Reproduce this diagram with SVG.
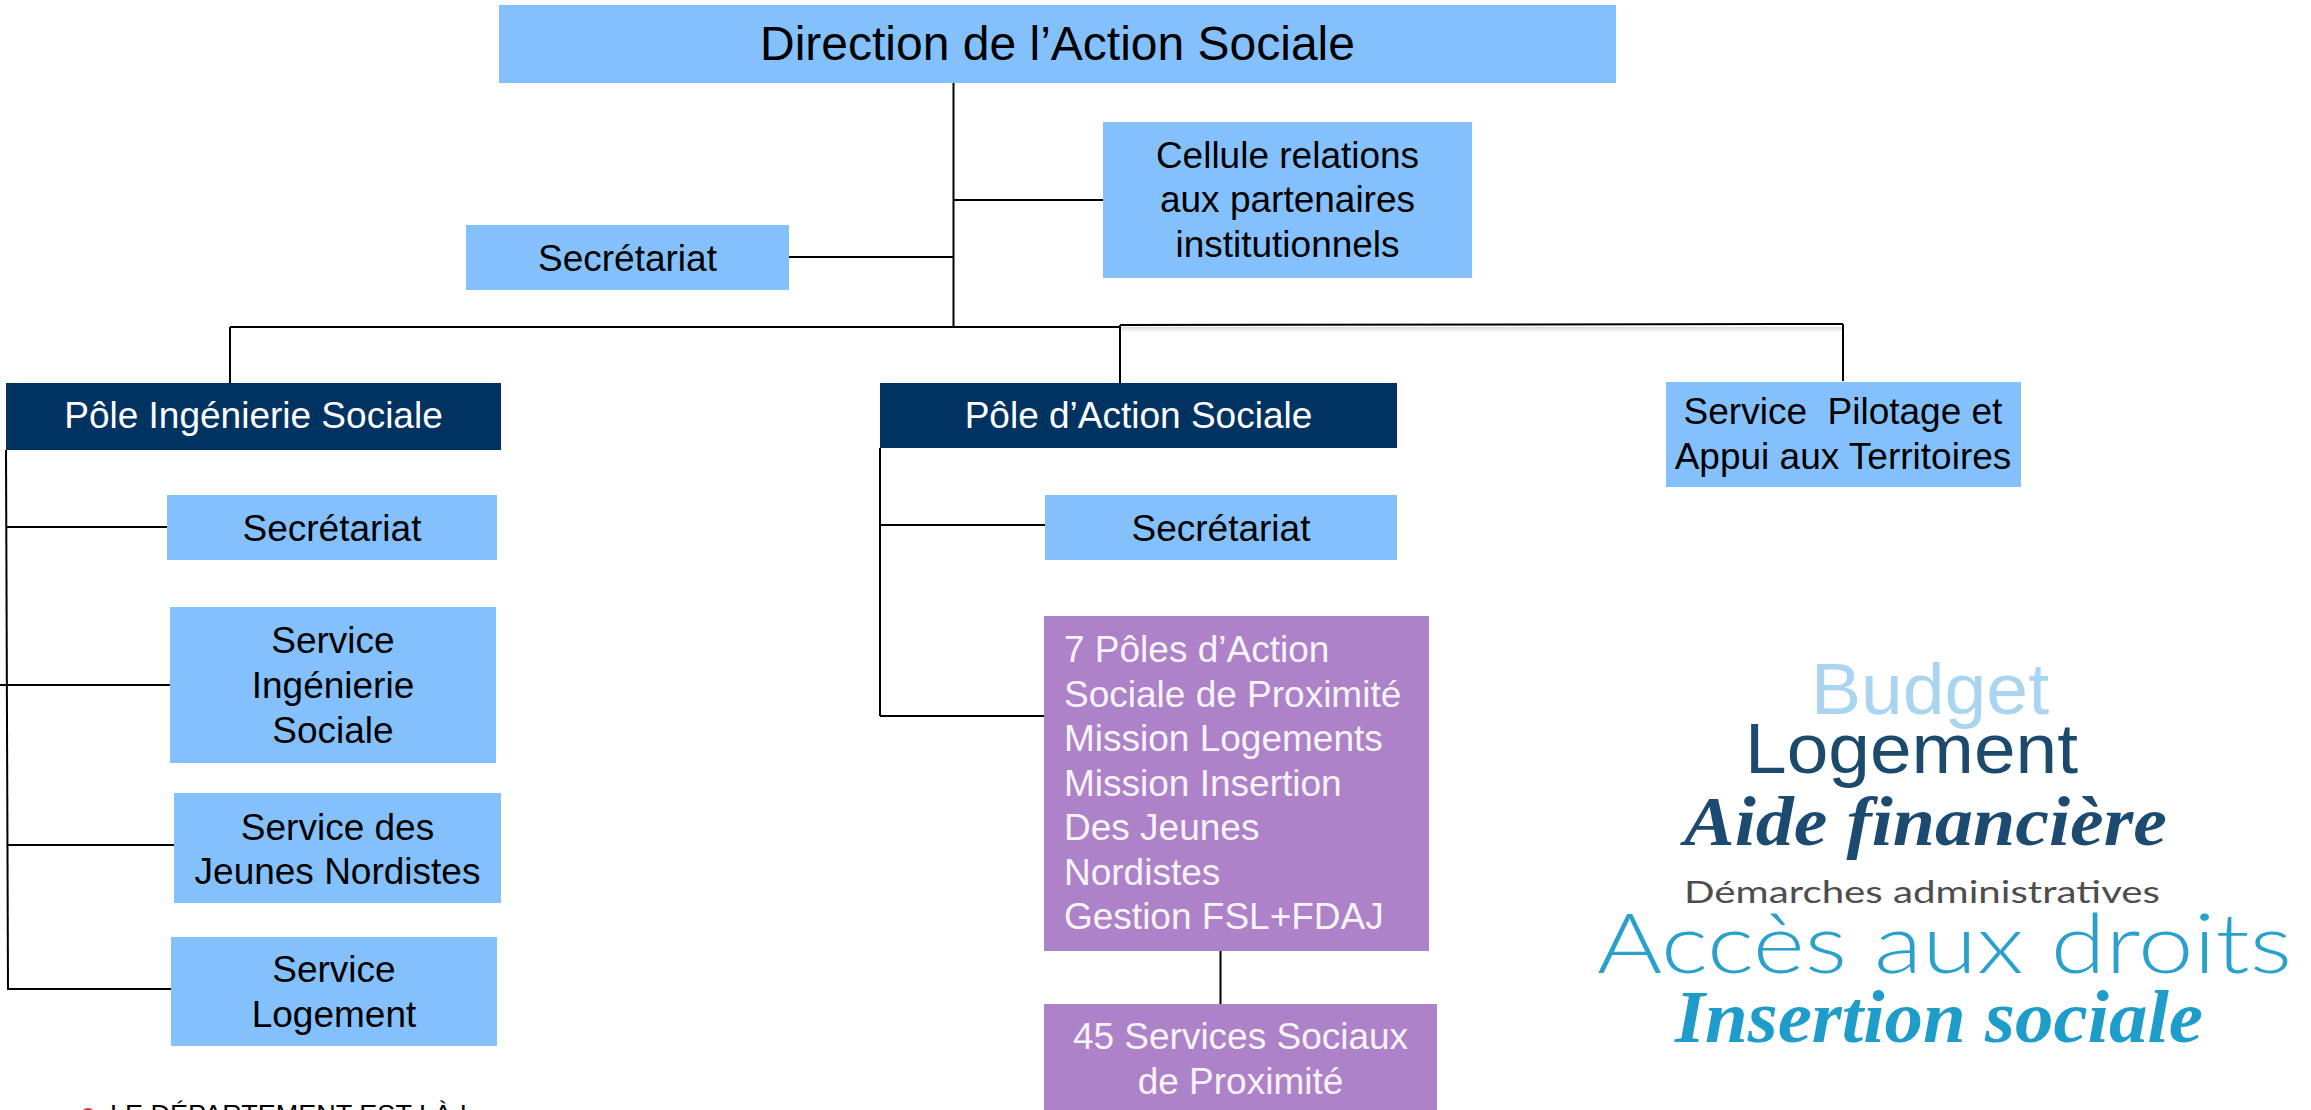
<svg xmlns="http://www.w3.org/2000/svg" width="2311" height="1110" viewBox="0 0 2311 1110">
<defs>
<style>
.lb{fill:#84C1FC}
.nv{fill:#003362}
.pu{fill:#AE82C8}
.t{font-family:"Liberation Sans",Arial,sans-serif;font-size:37px;fill:#000;text-anchor:middle}
.tw{font-family:"Liberation Sans",Arial,sans-serif;font-size:37px;fill:#fff;text-anchor:middle}
.tp{font-family:"Liberation Sans",Arial,sans-serif;font-size:37px;fill:#F7F4F9}
.c{stroke:#000;stroke-width:2;fill:none}
.cloud{font-family:"Liberation Sans",Arial,sans-serif}
.script{font-family:"Liberation Serif","DejaVu Serif",serif;font-style:italic;font-weight:bold}
</style>
<linearGradient id="shadow" x1="0" y1="0" x2="0" y2="1">
<stop offset="0" stop-color="#d8d8d8"/>
<stop offset="1" stop-color="#ffffff" stop-opacity="0"/>
</linearGradient>
</defs>
<rect width="2311" height="1110" fill="#fff"/>

<g id="connectors">
<rect x="1120" y="327" width="723" height="8" fill="url(#shadow)"/>
<line class="c" x1="953.5" y1="83" x2="953.5" y2="327"/>
<line class="c" x1="953.5" y1="200" x2="1103" y2="200"/>
<line class="c" x1="789" y1="257" x2="953.5" y2="257"/>
<line class="c" x1="230" y1="327" x2="1120" y2="327" stroke-width="2.6"/>
<line class="c" x1="1120" y1="325" x2="1843" y2="324" stroke-width="2.6"/>
<line class="c" x1="230" y1="327" x2="230" y2="383" stroke-width="1.6"/>
<line class="c" x1="1120" y1="325" x2="1120" y2="383" stroke-width="1.6"/>
<line class="c" x1="1843" y1="324" x2="1843" y2="381" stroke-width="1.6"/>
<line class="c" x1="6" y1="450" x2="8" y2="990"/>
<line class="c" x1="6" y1="527" x2="167" y2="527"/>
<line class="c" x1="0" y1="685" x2="170" y2="685"/>
<line class="c" x1="7.5" y1="845" x2="174" y2="845"/>
<line class="c" x1="8" y1="989" x2="171" y2="989"/>
<line class="c" x1="880" y1="448" x2="880" y2="716"/>
<line class="c" x1="880" y1="525" x2="1045" y2="525"/>
<line class="c" x1="880" y1="716" x2="1044" y2="716"/>
<line class="c" x1="1220.5" y1="951" x2="1220.5" y2="1004"/>
</g>

<g id="direction">
<rect class="lb" x="499" y="5" width="1117" height="78"/>
<text class="t" x="1057.5" y="60" style="font-size:48px">Direction de l’Action Sociale</text>
</g>
<g id="cellule">
<rect class="lb" x="1103" y="122" width="369" height="156"/>
<text class="t" x="1287.5" y="168">Cellule relations</text>
<text class="t" x="1287.5" y="212">aux partenaires</text>
<text class="t" x="1287.5" y="257">institutionnels</text>
</g>
<g id="secretariat-direction">
<rect class="lb" x="466" y="225" width="323" height="65"/>
<text class="t" x="627.5" y="271">Secrétariat</text>
</g>
<g id="pole-ingenierie">
<rect class="nv" x="6" y="383" width="495" height="67"/>
<text class="tw" x="253.5" y="428">Pôle Ingénierie Sociale</text>
</g>
<g id="pole-action">
<rect class="nv" x="880" y="383" width="517" height="65"/>
<text class="tw" x="1138.5" y="428">Pôle d’Action Sociale</text>
</g>
<g id="service-pilotage">
<rect class="lb" x="1666" y="382" width="355" height="105"/>
<text class="t" x="1843" y="424" xml:space="preserve">Service  Pilotage et</text>
<text class="t" x="1843" y="469">Appui aux Territoires</text>
</g>
<g id="secretariat-ingenierie">
<rect class="lb" x="167" y="495" width="330" height="65"/>
<text class="t" x="332" y="541">Secrétariat</text>
</g>
<g id="service-ingenierie">
<rect class="lb" x="170" y="607" width="326" height="156"/>
<text class="t" x="333" y="653">Service</text>
<text class="t" x="333" y="698">Ingénierie</text>
<text class="t" x="333" y="743">Sociale</text>
</g>
<g id="service-jeunes">
<rect class="lb" x="174" y="793" width="327" height="110"/>
<text class="t" x="337.5" y="840">Service des</text>
<text class="t" x="337.5" y="884">Jeunes Nordistes</text>
</g>
<g id="service-logement">
<rect class="lb" x="171" y="937" width="326" height="109"/>
<text class="t" x="334" y="982">Service</text>
<text class="t" x="334" y="1027">Logement</text>
</g>
<g id="secretariat-action">
<rect class="lb" x="1045" y="495" width="352" height="65"/>
<text class="t" x="1221" y="541">Secrétariat</text>
</g>
<g id="poles-proximite">
<rect class="pu" x="1044" y="616" width="385" height="335"/>
<text class="tp" x="1064" y="662">7 Pôles d’Action</text>
<text class="tp" x="1064" y="707">Sociale de Proximité</text>
<text class="tp" x="1064" y="751">Mission Logements</text>
<text class="tp" x="1064" y="796">Mission Insertion</text>
<text class="tp" x="1064" y="840">Des Jeunes</text>
<text class="tp" x="1064" y="885">Nordistes</text>
<text class="tp" x="1064" y="929">Gestion FSL+FDAJ</text>
</g>
<g id="services-sociaux">
<rect class="pu" x="1044" y="1004" width="393" height="106"/>
<text class="tw" x="1240.5" y="1049" style="fill:#F7F4F9">45 Services Sociaux</text>
<text class="tw" x="1240.5" y="1094" style="fill:#F7F4F9">de Proximité</text>
</g>

<g id="word-cloud">
<text class="cloud" x="1811" y="714" font-size="72" fill="#A9D5F0" textLength="238" lengthAdjust="spacingAndGlyphs">Budget</text>
<text class="cloud" x="1745" y="773" font-size="70" fill="#1C4A6C" textLength="333" lengthAdjust="spacingAndGlyphs">Logement</text>
<text class="script" x="1684" y="845" font-size="70" fill="#1D4A70" textLength="483" lengthAdjust="spacingAndGlyphs">Aide financière</text>
<text class="cloud" x="1684" y="903" font-size="30" fill="#4D4D4D" style="font-family:Lato,'Liberation Sans',sans-serif" textLength="476" lengthAdjust="spacingAndGlyphs">Démarches administratives</text>
<text class="cloud" x="1597" y="973" font-size="82" fill="#2AA1CC" style="font-family:Lato,'Liberation Sans',sans-serif;font-weight:300" textLength="695" lengthAdjust="spacingAndGlyphs">Accès aux droits</text>
<text class="script" x="1675" y="1042" font-size="74" fill="#1E9DCB" textLength="528" lengthAdjust="spacingAndGlyphs">Insertion sociale</text>
</g>

<g id="footer">
<circle cx="88" cy="1115" r="7" fill="#E0332E"/>
<text x="110" y="1123" font-family="'Liberation Sans',Arial,sans-serif" font-size="26" fill="#000" textLength="357" lengthAdjust="spacingAndGlyphs">LE DÉPARTEMENT EST LÀ !</text>
</g>
</svg>
